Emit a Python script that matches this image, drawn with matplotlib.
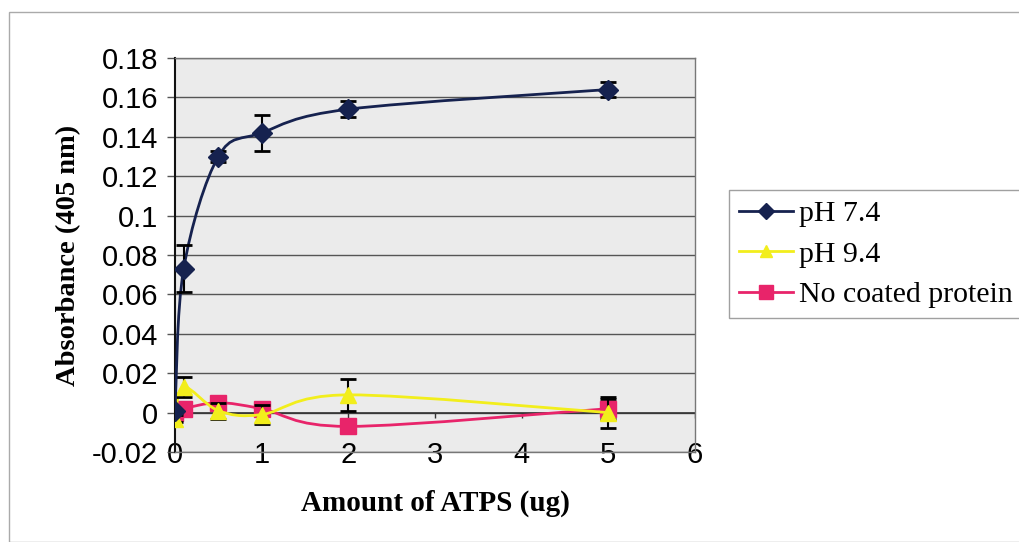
import matplotlib
matplotlib.use("Agg")
import matplotlib.pyplot as plt
from matplotlib.path import Path
from matplotlib.patches import PathPatch, Rectangle
from matplotlib.lines import Line2D

x_vals = [0, 0.1, 0.5, 1, 2, 5]
ph74 = [0.001, 0.073, 0.130, 0.142, 0.154, 0.164]
ph74_err = [0.0, 0.012, 0.003, 0.009, 0.004, 0.004]
ph94 = [-0.003, 0.013, 0.001, -0.001, 0.009, 0.0]
ph94_err = [0.002, 0.005, 0.004, 0.005, 0.008, 0.008]
nocoat = [0.0, 0.002, 0.005, 0.002, -0.007, 0.002]
nocoat_err = [0.001, 0.001, 0.001, 0.003, 0.001, 0.005]
series_names = ["pH 7.4", "pH 9.4", "No coated protein"]
x_ticks = [0, 1, 2, 3, 4, 5, 6]
y_ticks = [-0.02, 0, 0.02, 0.04, 0.06, 0.08, 0.1, 0.12, 0.14, 0.16, 0.18]
y_tick_labels = ["-0.02", "0", "0.02", "0.04", "0.06", "0.08", "0.1", "0.12", "0.14", "0.16", "0.18"]

colors = ["#16224f", "#f2ee1c", "#e8246a"]
markers = ["D", "^", "s"]
msizes = [10, 11, 12]

fig = plt.figure(figsize=(10.19, 5.42), dpi=100)
fig.patch.set_facecolor("white")
ax = fig.add_axes([175/1019, 1-452/542, 520/1019, 394/542])
ax.set_facecolor("#ebebeb")

def smooth_path(xs, ys):
    verts = [(xs[0], ys[0])]
    codes = [Path.MOVETO]
    n = len(xs)
    for i in range(n - 1):
        p0 = (xs[i-1], ys[i-1]) if i > 0 else (xs[i], ys[i])
        p1 = (xs[i], ys[i]); p2 = (xs[i+1], ys[i+1])
        p3 = (xs[i+2], ys[i+2]) if i + 2 < n else p2
        c1 = (p1[0] + (p2[0]-p0[0])/6, p1[1] + (p2[1]-p0[1])/6)
        c2 = (p2[0] - (p3[0]-p1[0])/6, p2[1] - (p3[1]-p1[1])/6)
        verts += [c1, c2, p2]
        codes += [Path.CURVE4]*3
    return Path(verts, codes)

data = [(ph74, ph74_err), (ph94, ph94_err), (nocoat, nocoat_err)]
handles = []
for i, ((ys, es), c, m, ms, name) in enumerate(zip(data, colors, markers, msizes, series_names)):
    z = 5 - i
    ax.add_patch(PathPatch(smooth_path(x_vals, ys), facecolor="none", edgecolor=c, lw=2, zorder=z))
    ax.errorbar(x_vals, ys, yerr=es, fmt="none", ecolor="black", elinewidth=1.5, capsize=6, capthick=2, zorder=z)
    ax.plot(x_vals, ys, linestyle="none", marker=m, color=c, markersize=ms, zorder=z+0.5)
    handles.append(Line2D([], [], color=c, lw=2, marker=m, markersize=ms*0.85, label=name))

ax.set_xlim(0, 6)
ax.set_ylim(-0.02, 0.18)
ax.set_yticks(y_ticks)
ax.set_yticklabels(y_tick_labels, fontsize=21, family="Liberation Sans")
ax.set_xticks(x_ticks)
ax.set_xticklabels([str(t) for t in x_ticks], fontsize=21, family="Liberation Sans")
ax.tick_params(axis="x", length=0, pad=-8)
ax.tick_params(axis="y", length=6, width=1, color="#555555", pad=6, direction="out")
ax.grid(axis="y", color="#555555", lw=1)
ax.set_axisbelow(True)
for s in ["top", "right", "bottom"]:
    ax.spines[s].set_color("#777777")
    ax.spines[s].set_linewidth(1)
ax.spines["left"].set_color("#111111")
ax.spines["left"].set_linewidth(1.5)
ax.axhline(0, color="#333333", lw=1.2, zorder=1)
ax.vlines(x_ticks, -0.0025, 0, color="#333333", lw=1, zorder=1)

ax.set_ylabel("Absorbance (405 nm)", fontsize=20.5, fontweight="bold", family="Liberation Serif", labelpad=8)
ax.set_xlabel("Amount of ATPS (ug)", fontsize=21, fontweight="bold", family="Liberation Serif", labelpad=15)

leg = fig.legend(handles=handles, loc="upper left", bbox_to_anchor=(729/1019, 1-190/542),
                 prop={"family": "Liberation Serif", "size": 21.5}, frameon=True, fancybox=False,
                 edgecolor="#888888", handlelength=1.8, handletextpad=0.2, labelspacing=0.45,
                 borderpad=0.35, borderaxespad=0)
leg.get_frame().set_linewidth(1)

fig.patches.append(Rectangle((9/1019, 0), 1.0, 1-12/542, transform=fig.transFigure,
                             fill=False, edgecolor="#aaaaaa", lw=1))

fig.savefig("out.png", dpi=100, facecolor="white")
